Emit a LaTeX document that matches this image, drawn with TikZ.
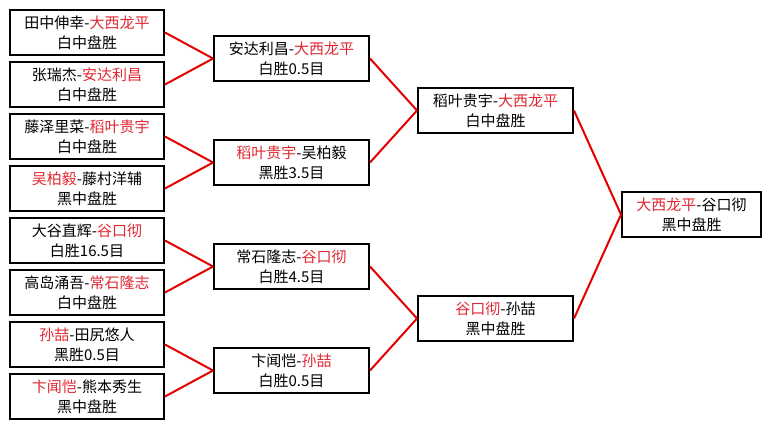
\documentclass[tikz,border=0pt]{standalone}
\usepackage{fontspec}
\setmainfont{Noto Sans CJK SC}
\definecolor{rtxt}{RGB}{225,40,50}
\definecolor{rline}{RGB}{228,0,0}
\newcommand\redname[1]{\textcolor{rtxt}{#1}}
\begin{document}
\begin{tikzpicture}[x=0.75pt,y=-0.75pt,
  box/.style={draw=black, line width=1.5pt, fill=white, inner sep=0pt,
    minimum height=33.75pt, align=center,
    font=\fontsize{11.25pt}{15pt}\selectfont},
  wa/.style={box, minimum width=115.5pt},
  wb/.style={box, minimum width=116.25pt},
  wc/.style={box, minimum width=104.25pt},
  conn/.style={draw=rline, line width=1.5pt}]
\useasboundingbox[fill=white] (0,0) rectangle (771,429);
% round 1
\node[wa] (p1) at (87,32.5) {田中伸幸-\redname{大西龙平}\\白中盘胜};
\node[wa] (p2) at (87,84.5) {张瑞杰-\redname{安达利昌}\\白中盘胜};
\node[wa] (p3) at (87,136.5) {藤泽里菜-\redname{稻叶贵宇}\\白中盘胜};
\node[wa] (p4) at (87,188.5) {\redname{吴柏毅}-藤村洋辅\\黑中盘胜};
\node[wa] (p5) at (87,240.5) {大谷直辉-\redname{谷口彻}\\白胜16.5目};
\node[wa] (p6) at (87,292.5) {高岛涌吾-\redname{常石隆志}\\白中盘胜};
\node[wa] (p7) at (87,344.5) {\redname{孙喆}-田尻悠人\\黑胜0.5目};
\node[wa] (p8) at (87,396.5) {\redname{卞闻恺}-熊本秀生\\黑中盘胜};
% round 2
\node[wb] (q1) at (291.5,58.5) {安达利昌-\redname{大西龙平}\\白胜0.5目};
\node[wb] (q2) at (291.5,162.5) {\redname{稻叶贵宇}-吴柏毅\\黑胜3.5目};
\node[wb] (q3) at (291.5,266.5) {常石隆志-\redname{谷口彻}\\白胜4.5目};
\node[wb] (q4) at (291.5,370.5) {卞闻恺-\redname{孙喆}\\白胜0.5目};
% round 3
\node[wb] (s1) at (495.5,110.5) {稻叶贵宇-\redname{大西龙平}\\白中盘胜};
\node[wb] (s2) at (495.5,318.5) {\redname{谷口彻}-孙喆\\黑中盘胜};
% final
\node[wc] (f) at (691.5,214.5) {\redname{大西龙平}-谷口彻\\黑中盘胜};
% connectors
\draw[conn] (p1.east) -- (q1.west);
\draw[conn] (p2.east) -- (q1.west);
\draw[conn] (p3.east) -- (q2.west);
\draw[conn] (p4.east) -- (q2.west);
\draw[conn] (p5.east) -- (q3.west);
\draw[conn] (p6.east) -- (q3.west);
\draw[conn] (p7.east) -- (q4.west);
\draw[conn] (p8.east) -- (q4.west);
\draw[conn] (q1.east) -- (s1.west);
\draw[conn] (q2.east) -- (s1.west);
\draw[conn] (q3.east) -- (s2.west);
\draw[conn] (q4.east) -- (s2.west);
\draw[conn] (s1.east) -- (f.west);
\draw[conn] (s2.east) -- (f.west);
\end{tikzpicture}
\end{document}
